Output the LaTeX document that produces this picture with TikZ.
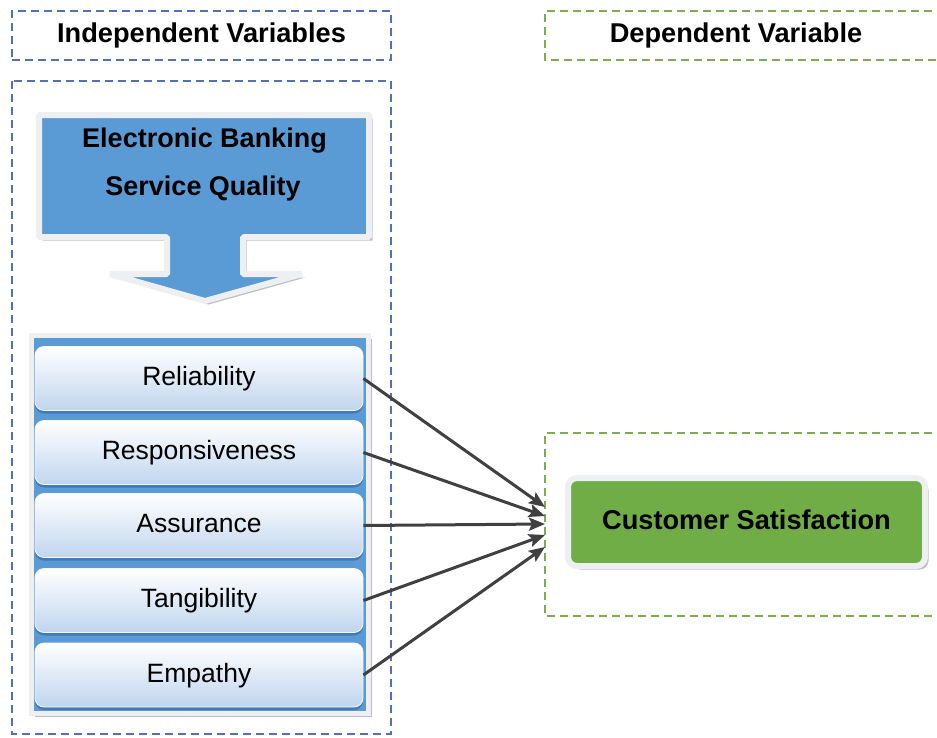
\documentclass[tikz,border=0pt]{standalone}
\usepackage{fontspec}
\setmainfont{Liberation Sans}
\usetikzlibrary{arrows.meta,shadows}

\definecolor{dashblue}{HTML}{4F72B8}
\definecolor{dashgreen}{HTML}{7CAD4E}
\definecolor{qblue}{HTML}{5B9BD5}
\definecolor{itembot}{HTML}{BFD5EE}
\definecolor{itemshade}{HTML}{3A72B2}
\definecolor{csgreen}{HTML}{70AD47}
\definecolor{arrowgray}{HTML}{404040}
\definecolor{rimgray}{HTML}{EEEFF1}
\definecolor{shadowgray}{HTML}{8C95A6}

\tikzset{
  blueframe/.style={draw=dashblue, line width=2pt, dash pattern=on 8pt off 5pt},
  greenframe/.style={draw=dashgreen, line width=2pt, dash pattern=on 8pt off 5pt},
  boldtext/.style={font=\fontsize{27.2}{30}\selectfont\bfseries, text height=19pt, text depth=5pt, inner sep=0pt},
  softshadow/.style={drop shadow={shadow xshift=3.5pt, shadow yshift=-3.5pt, fill=shadowgray, opacity=0.6}},
  rim/.style={draw=rimgray, line width=6pt},
  itembox/.style={rounded corners=9pt, minimum width=328pt, minimum height=64pt, inner sep=0pt,
    top color=white, bottom color=itembot, draw=white!85!itembot, line width=0.8pt,
    drop shadow={shadow xshift=0pt, shadow yshift=-3pt, fill=itemshade, opacity=0.8},
    font=\fontsize{26.5}{30}\selectfont, text height=19pt, text depth=5pt},
  link/.style={draw=arrowgray, line width=3pt, -{Stealth[length=16pt,width=13pt,inset=3pt]}},
}

\begin{document}
\begin{tikzpicture}[x=1pt,y=-1pt]
  \useasboundingbox (0,0) rectangle (937,737);

  % column headers
  \node[blueframe, boldtext, minimum width=379pt, minimum height=49pt] (indhead) at (201.5,35.5) {Independent Variables};
  \draw[greenframe] (945,11) -- (545,11) -- (545,60) -- (945,60);
  \node[boldtext, anchor=center] (dephead) at (736,35.5) {Dependent Variable};

  % frames around the two groups
  \draw[blueframe] (12,81) rectangle (391,734);
  \draw[greenframe] (945,433) -- (545,433) -- (545,616) -- (945,616);

  % block arrow for the construct
  \draw[fill=qblue, rim, line join=bevel, softshadow]
    (39,115) -- (369,115) -- (369,237) -- (243,237) -- (243,274) -- (302,274)
    -- (205,301) -- (110,274) -- (167,274) -- (167,237) -- (39,237) -- cycle;
  \node[font=\fontsize{27}{30}\selectfont\bfseries, anchor=base, inner sep=0pt] (esq1) at (204.5,147) {Electronic Banking};
  \node[font=\fontsize{27}{30}\selectfont\bfseries, anchor=base, inner sep=0pt] (esq2) at (203,195) {Service Quality};

  % panel holding the dimensions
  \node[fill=qblue, rim, line width=5pt, softshadow, minimum width=337pt, minimum height=378pt, inner sep=0pt] (panel) at (199.5,524) {};

  \node[itembox] (rel) at (199,378.5) {Reliability};
  \node[itembox] (res) at (199,452.5) {Responsiveness};
  \node[itembox] (ass) at (199,525.5) {Assurance};
  \node[itembox] (tan) at (199,600.5) {Tangibility};
  \node[itembox] (emp) at (199,675) {Empathy};

  % outcome
  \node[fill=csgreen, rim, rounded corners=9pt, minimum width=357pt, minimum height=88pt, softshadow, boldtext] (cs) at (746.5,522) {Customer Satisfaction};

  % arrow targets
  \coordinate (t1) at (545,507);
  \coordinate (t2) at (545,516);
  \coordinate (t3) at (545,524);
  \coordinate (t4) at (545,535);
  \coordinate (t5) at (545,547);

  \draw[link] (rel.east) -- (t1);
  \draw[link] (res.east) -- (t2);
  \draw[link] (ass.east) -- (t3);
  \draw[link] (tan.east) -- (t4);
  \draw[link] (emp.east) -- (t5);
\end{tikzpicture}
\end{document}
